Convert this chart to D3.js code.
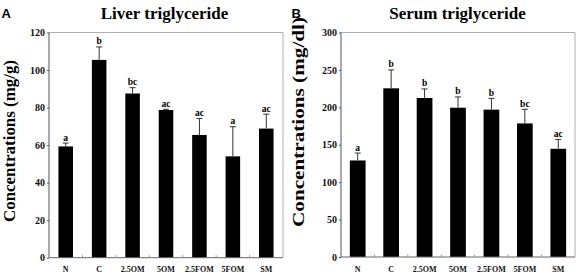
<!DOCTYPE html>
<html><head><meta charset="utf-8">
<script src="https://cdn.jsdelivr.net/npm/d3@7"></script>
<style>body{margin:0;background:#fff}svg{display:block}</style>
</head><body>
<svg id="c" width="577" height="275"></svg>
<script>
const categories = ["N","C","2.5OM","5OM","2.5FOM","5FOM","SM"];
const liverMean = [59.3,105.4,87.5,78.7,65.4,54.0,68.8];
const liverSD   = [1.8,6.9,3.1,0.4,8.8,15.8,7.7];
const liverLetters = ["a","b","bc","ac","ac","a","ac"];
const liverTicks = [0,20,40,60,80,100,120];
const serumMean = [129,225.4,212.5,199.5,196.9,178.5,144.6];
const serumSD   = [9.9,24.6,12.1,14.4,15.1,18.8,12.5];
const serumLetters = ["a","b","b","b","b","bc","ac"];
const serumTicks = [0,50,100,150,200,250,300];

const svg = d3.select("#c");
const serif = "'Liberation Serif','Times New Roman',serif";

function panel(o){
  const g = svg.append("g");
  const x = d3.scaleBand().domain(categories).range([o.x0,o.x1]).paddingInner(o.pad).paddingOuter(o.pad/2);
  const y = d3.scaleLinear().domain([0,o.max]).range([o.y0,o.y1]);
  g.append("path").attr("d",`M${o.x0},${o.y1}H${o.x1}V${o.y0}`).attr("fill","none").attr("stroke","#b0b0b0").attr("stroke-width",1);
  g.selectAll("rect.bar").data(categories).join("rect")
    .attr("x",d=>x(d)).attr("width",x.bandwidth())
    .attr("y",(d,i)=>y(o.mean[i])).attr("height",(d,i)=>y(0)-y(o.mean[i]))
    .attr("fill","#000");
  const cx = d=>x(d)+x.bandwidth()/2;
  g.selectAll("path.err").data(categories).join("path")
    .attr("d",(d,i)=>{const t=y(o.mean[i]+o.sd[i]);return `M${cx(d)},${y(o.mean[i])}V${t}M${cx(d)-3},${t}H${cx(d)+3}`;})
    .attr("stroke","#333").attr("stroke-width",1).attr("fill","none");
  g.selectAll("text.let").data(categories).join("text")
    .attr("x",cx).attr("y",(d,i)=>y(o.mean[i]+o.sd[i])-2.5)
    .attr("text-anchor","middle").attr("font-family",serif).attr("font-weight","bold").attr("font-size",9.5)
    .text((d,i)=>o.letters[i]);
  const ya = g.append("g").attr("transform",`translate(${o.x0},0)`)
    .call(d3.axisLeft(y).tickValues(o.ticks).tickSize(2).tickPadding(2).tickFormat(d3.format("d")));
  ya.select(".domain").attr("stroke","#555").attr("d",`M0,${o.y0}V${o.y1}`);
  ya.selectAll(".tick line").attr("stroke","#555");
  ya.selectAll("text").attr("font-family",serif).attr("font-weight","bold").attr("font-size",10).attr("fill","#111");
  const xa = g.append("g").attr("transform",`translate(0,${o.y0})`)
    .call(d3.axisBottom(x).tickSize(0).tickPadding(9));
  xa.select(".domain").attr("stroke","#666").attr("d",`M${o.x0},0H${o.x1}`);
  xa.selectAll("text").attr("font-family",serif).attr("font-weight","bold").attr("font-size",8).attr("fill","#111");
  g.selectAll("line.sep").data(categories.slice(1)).join("line")
    .attr("x1",d=>x(d)-x.step()*x.paddingInner()/2).attr("x2",d=>x(d)-x.step()*x.paddingInner()/2)
    .attr("y1",o.y0).attr("y2",o.y0-2.5).attr("stroke","#999");
  g.append("text").attr("x",o.tx).attr("y",18.5).attr("text-anchor","middle")
    .attr("font-family",serif).attr("font-weight","bold").attr("font-size",17).text(o.title);
  g.append("text").attr("transform",`translate(${o.lx},${o.ly}) rotate(-90)`).attr("text-anchor","middle")
    .attr("font-family",serif).attr("font-weight","bold").attr("font-size",16)
    .attr("textLength",o.llen).attr("lengthAdjust","spacingAndGlyphs").text(o.ylabel);
  g.append("text").attr("x",o.px).attr("y",17.5).attr("font-family","'Liberation Sans',Arial,sans-serif")
    .attr("font-weight","bold").attr("font-size",13).text(o.plabel);
}

panel({x0:49,x1:283,y0:257.7,y1:32.5,max:120,pad:0.565,mean:liverMean,sd:liverSD,letters:liverLetters,ticks:liverTicks,
  title:"Liver triglyceride",tx:164.5,ylabel:"Concentrations (mg/g)",lx:14.5,ly:141,llen:162,plabel:"A",px:1.5});
panel({x0:341,x1:575,y0:257,y1:32.5,max:300,pad:0.53,mean:serumMean,sd:serumSD,letters:serumLetters,ticks:serumTicks,
  title:"Serum triglyceride",tx:457.5,ylabel:"Concentrations (mg/dl)",lx:304,ly:122,llen:210,plabel:"B",px:291.5});
</script>
</body></html>
